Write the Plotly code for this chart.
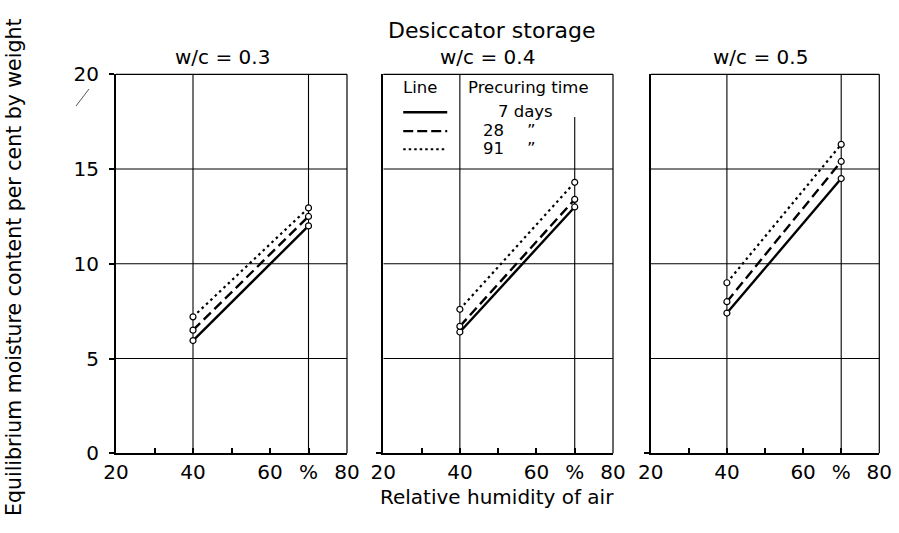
import plotly.graph_objects as go

W, H = 899, 533

# ---- data ----
rh = [40, 70]
panel_titles = ["w/c = 0.3", "w/c = 0.4", "w/c = 0.5"]
solid_7d = [[5.95, 12.0], [6.4, 13.0], [7.4, 14.5]]
dash_28d = [[6.5, 12.5], [6.7, 13.4], [8.0, 15.4]]
dot_91d = [[7.2, 12.95], [7.6, 14.3], [9.0, 16.3]]
x_tickvals = [20, 30, 40, 50, 60, 70, 80]
x_ticktext = ["20", "", "40", "", "60", "%", "80"]
y_tickvals = [0, 5, 10, 15, 20]
y_ticktext = ["0", "5", "10", "15", "20"]
x_grid = [40, 70]
y_grid = [5, 10, 15]

FONT = "DejaVu Sans"

def px_x(p):
    return p / W

def px_y(p):
    return 1 - p / H

x_domains = [[px_x(116), px_x(347)], [px_x(383.3), px_x(613)], [px_x(650.7), px_x(879.3)]]
y_domain = [px_y(453.3), px_y(74.3)]

fig = go.Figure()
styles = [("solid", 2.4, solid_7d), ("10px,5px", 2.4, dash_28d), ("2.5px,3.5px", 2.2, dot_91d)]

for i in range(3):
    xa = "x" if i == 0 else f"x{i+1}"
    ya = "y" if i == 0 else f"y{i+1}"
    for dash, lw, vals in styles:
        fig.add_trace(go.Scatter(
            x=rh, y=vals[i], xaxis=xa, yaxis=ya, mode="lines+markers",
            line=dict(color="black", width=lw, dash=dash),
            marker=dict(symbol="circle", size=6, color="white", line=dict(color="black", width=1.2)),
            showlegend=False, hoverinfo="skip"))

layout = dict(width=W, height=H, margin=dict(l=0, r=0, t=0, b=0, pad=0, autoexpand=False),
              paper_bgcolor="white", plot_bgcolor="white", showlegend=False,
              font=dict(family=FONT, color="black"))
shapes = []
annotations = []
for i in range(3):
    sfx = "" if i == 0 else str(i + 1)
    layout["xaxis" + sfx] = dict(
        domain=x_domains[i], range=[20, 80], anchor="y" + sfx,
        tickvals=x_tickvals, ticktext=x_ticktext, ticks="inside", ticklen=5, tickwidth=1.5,
        tickcolor="black", showline=True, linewidth=2, linecolor="black",
        showgrid=False, zeroline=False, tickfont=dict(size=20, family=FONT), automargin=False)
    layout["yaxis" + sfx] = dict(
        domain=y_domain, range=[0, 20], anchor="x" + sfx,
        tickvals=y_tickvals if i == 0 else [0], ticktext=y_ticktext if i == 0 else [""],
        showticklabels=(i == 0), ticks="outside", ticklen=5, tickwidth=1.5, tickcolor="black",
        ticklabelstandoff=6, automargin=False,
        showline=True, linewidth=2, linecolor="black", showgrid=False, zeroline=False,
        tickfont=dict(size=20, family=FONT))
    xr, yr = "x" + sfx, "y" + sfx
    # frame top and right
    shapes.append(dict(type="line", xref=xr + " domain", yref=yr + " domain", x0=0, x1=1, y0=1, y1=1,
                       line=dict(color="black", width=1.2)))
    shapes.append(dict(type="line", xref=xr + " domain", yref=yr + " domain", x0=1, x1=1, y0=0, y1=1,
                       line=dict(color="black", width=1.2)))
    for gx in x_grid:
        top = 20
        if i == 1 and gx == 70:
            top = 17.75
        shapes.append(dict(type="line", xref=xr, yref=yr, x0=gx, x1=gx, y0=0, y1=top,
                           line=dict(color="black", width=1.1), layer="below"))
    for gy in y_grid:
        shapes.append(dict(type="line", xref=xr, yref=yr, x0=20, x1=80, y0=gy, y1=gy,
                           line=dict(color="black", width=1.1), layer="below"))

# panel titles
title_x = [222, 487, 760]
for i in range(3):
    annotations.append(dict(text=panel_titles[i], x=px_x(title_x[i]), y=px_y(57), xref="paper", yref="paper",
                            showarrow=False, font=dict(size=20, family=FONT), xanchor="center", yanchor="middle"))
annotations.append(dict(text="Desiccator storage", x=px_x(491), y=px_y(31), xref="paper", yref="paper",
                        showarrow=False, font=dict(size=22, family=FONT), xanchor="center", yanchor="middle"))
annotations.append(dict(text="Relative humidity of air", x=px_x(497), y=px_y(497), xref="paper", yref="paper",
                        showarrow=False, font=dict(size=20, family=FONT), xanchor="center", yanchor="middle"))
annotations.append(dict(text="Equilibrium moisture content per cent by weight", x=px_x(14), y=px_y(268),
                        xref="paper", yref="paper", textangle=-90,
                        showarrow=False, font=dict(size=20.5, family=FONT), xanchor="center", yanchor="middle"))

# legend table inside panel 2
lx, ly = "x2", "y2"
leg_font = dict(size=16.5, family=FONT)
annotations.append(dict(text="Line", x=29.7, y=19.28, xref=lx, yref=ly, showarrow=False, font=leg_font))
annotations.append(dict(text="Precuring time", x=57.9, y=19.28, xref=lx, yref=ly, showarrow=False, font=leg_font))
legend_rows = [("7 days", "", 18.0, "solid"), ("28", "\u201d", 17.0, "dash"), ("91", "\u201d", 16.05, "dot")]
for label, ditto, yv, kind in legend_rows:
    if kind == "solid":
        shapes.append(dict(type="line", xref=lx, yref=ly, x0=25.2, x1=36.7, y0=yv, y1=yv,
                           line=dict(color="black", width=2.4)))
        annotations.append(dict(text=label, x=57.2, y=yv + 0.05, xref=lx, yref=ly, showarrow=False, font=leg_font))
    else:
        shapes.append(dict(type="line", xref=lx, yref=ly, x0=25.2, x1=36.7, y0=yv, y1=yv,
                           line=dict(color="black", width=2.4 if kind == "dash" else 2.0,
                                     dash="10px,4px" if kind == "dash" else "2.5px,3px")))
        annotations.append(dict(text=label, x=48.8, y=yv + 0.05, xref=lx, yref=ly, showarrow=False, font=leg_font))
        annotations.append(dict(text=ditto, x=58.6, y=yv + 0.05, xref=lx, yref=ly, showarrow=False, font=leg_font))

# small scan mark near the top of the y axis
shapes.append(dict(type="line", xref="paper", yref="paper", x0=px_x(76), x1=px_x(89), y0=px_y(106), y1=px_y(89),
                   line=dict(color="#555555", width=1)))

layout["shapes"] = shapes
layout["annotations"] = annotations
fig.update_layout(**layout)
fig.write_html("out.html",
               post_script="document.body.style.margin='0';document.body.style.padding='0';"
                           "document.body.style.overflow='hidden';")
